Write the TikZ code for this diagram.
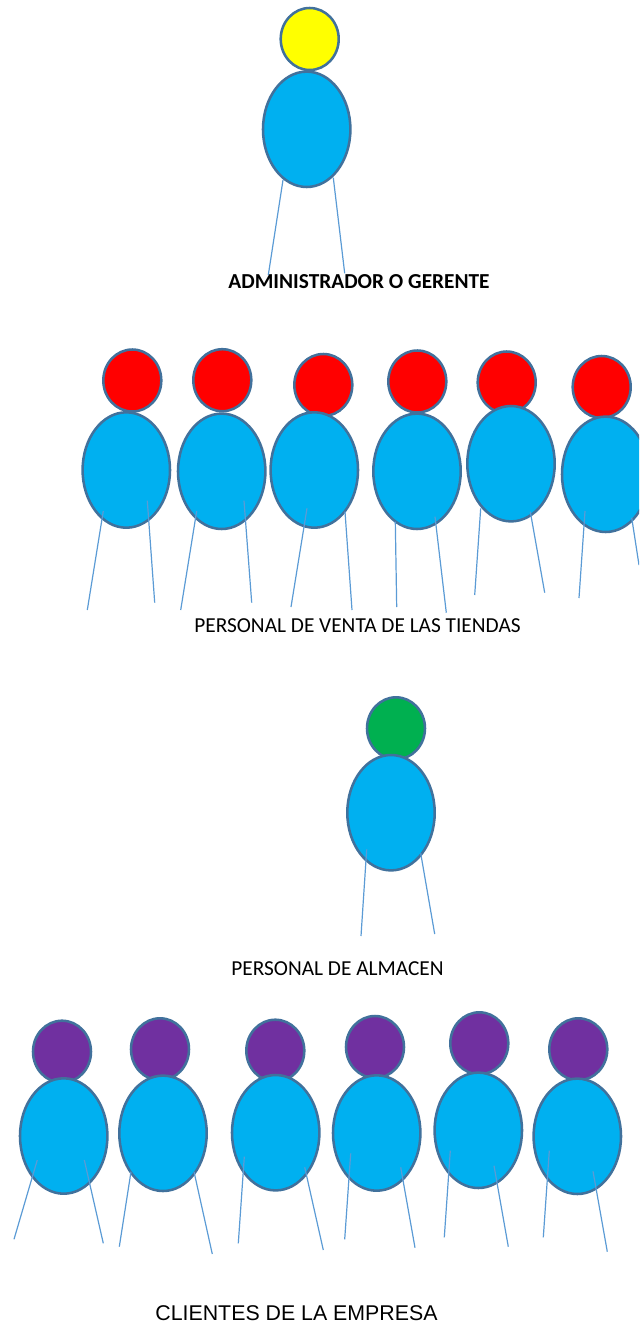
\documentclass[tikz,border=0pt]{standalone}
\usepackage{fontspec}
\setmainfont{Carlito}
\newfontfamily\arialfont{Liberation Sans}
\definecolor{bodyblue}{HTML}{00B0F0}
\definecolor{edgeblue}{HTML}{41719C}
\definecolor{legblue}{HTML}{5B9BD5}
\definecolor{headyellow}{HTML}{FFFF00}
\definecolor{headred}{HTML}{FF0000}
\definecolor{headgreen}{HTML}{00B050}
\definecolor{headpurple}{HTML}{7030A0}
\tikzset{
  torso/.style={draw=edgeblue,fill=bodyblue,line width=1.9pt},
  headshape/.style={draw=edgeblue,line width=1.9pt},
  legline/.style={draw=legblue,line width=0.9pt},
  caption/.style={inner sep=0.75pt,font=\fontsize{16}{19}\selectfont}
}
\begin{document}
\begin{tikzpicture}[x=0.75pt,y=0.75pt,yscale=-1,xscale=1]
    \useasboundingbox (0,0) rectangle (639,1324);
    \clip (0,0) rectangle (639,1324);

    %Shape: Manager
    \draw [headshape,fill=headyellow] (309.7,39) ellipse [x radius=29, y radius=31];
    \draw [torso] (306.7,129.3) ellipse [x radius=43.7, y radius=57.7];
    \draw [legline] (283,180) -- (268.3,275);
    \draw [legline] (333.3,177.7) -- (344.7,273.3);

    %Shape: Sales staff
    \draw [headshape,fill=headred] (132.3,380.5) ellipse [x radius=29, y radius=31];
    \draw [torso] (126.3,470) ellipse [x radius=43.7, y radius=57.7];
    \draw [legline] (103.3,511) -- (87.3,610);
    \draw [legline] (147.3,500.7) -- (154.7,602.7);

    \draw [headshape,fill=headred] (222.3,380.2) ellipse [x radius=29, y radius=31];
    \draw [torso] (221.7,471.3) ellipse [x radius=43.7, y radius=57.7];
    \draw [legline] (196.7,511) -- (180.7,610);
    \draw [legline] (244,500.7) -- (251.7,602.7);

    \draw [headshape,fill=headred] (323.3,385) ellipse [x radius=29, y radius=31];
    \draw [torso] (314.3,470) ellipse [x radius=43.7, y radius=57.7];
    \draw [legline] (307,508.3) -- (291,607);
    \draw [legline] (345,511.7) -- (352,610);

    \draw [headshape,fill=headred] (417.3,381.5) ellipse [x radius=29, y radius=31];
    \draw [torso] (417,471.3) ellipse [x radius=43.7, y radius=57.7];
    \draw [legline] (395.3,521.7) -- (396.7,607);
    \draw [legline] (435,516.7) -- (446.3,612.7);

    \draw [headshape,fill=headred] (506.7,382.5) ellipse [x radius=29, y radius=31];
    \draw [torso] (511,463.7) ellipse [x radius=43.7, y radius=57.7];
    \draw [legline] (480.7,508.3) -- (474.7,595);
    \draw [legline] (530.3,511.7) -- (544.7,592.7);

    \draw [headshape,fill=headred] (601.7,387) ellipse [x radius=29, y radius=31];
    \draw [torso] (605.7,474.3) ellipse [x radius=43.7, y radius=57.7];
    \draw [legline] (585,511) -- (579,598);
    \draw [legline] (631.7,517.7) -- (639,565);

    %Shape: Warehouse staff
    \draw [headshape,fill=headgreen] (396,728.3) ellipse [x radius=29, y radius=31];
    \draw [torso] (391,812.7) ellipse [x radius=43.7, y radius=57.7];
    \draw [legline] (366.7,849.3) -- (361,936);
    \draw [legline] (420.7,853.3) -- (434.7,934);

    %Shape: Customers
    \draw [headshape,fill=headpurple] (62,1051.7) ellipse [x radius=29, y radius=31];
    \draw [torso] (63.7,1136) ellipse [x radius=43.7, y radius=57.7];
    \draw [legline] (37.3,1160) -- (14,1239.3);
    \draw [legline] (84.3,1160) -- (103.3,1243.3);

    \draw [headshape,fill=headpurple] (160,1049.3) ellipse [x radius=29, y radius=31];
    \draw [torso] (163,1133.3) ellipse [x radius=43.7, y radius=57.7];
    \draw [legline] (131,1171.7) -- (119.3,1246.7);
    \draw [legline] (194,1171.7) -- (212.3,1254);

    \draw [headshape,fill=headpurple] (275.3,1050.7) ellipse [x radius=29, y radius=31];
    \draw [torso] (275.7,1132.7) ellipse [x radius=43.7, y radius=57.7];
    \draw [legline] (244.3,1156.7) -- (238.3,1243.3);
    \draw [legline] (304.7,1167.3) -- (323.3,1250);

    \draw [headshape,fill=headpurple] (375,1047) ellipse [x radius=29, y radius=31];
    \draw [torso] (376.7,1133) ellipse [x radius=43.7, y radius=57.7];
    \draw [legline] (350.7,1153.3) -- (344.7,1239.3);
    \draw [legline] (400.7,1167.3) -- (415,1247.7);

    \draw [headshape,fill=headpurple] (479.3,1043.3) ellipse [x radius=29, y radius=31];
    \draw [torso] (478.3,1130.3) ellipse [x radius=43.7, y radius=57.7];
    \draw [legline] (450.3,1150.7) -- (444.3,1237.3);
    \draw [legline] (494,1165.7) -- (508.3,1246.7);

    \draw [headshape,fill=headpurple] (578.3,1049.3) ellipse [x radius=29, y radius=31];
    \draw [torso] (577.3,1136.3) ellipse [x radius=43.7, y radius=57.7];
    \draw [legline] (549.3,1150.7) -- (543.3,1237.3);
    \draw [legline] (593,1171.3) -- (607.3,1251.7);

    % Text Node
    \node [caption,font=\fontsize{16}{19}\selectfont\bfseries] (managerlabel) at (359,282) {ADMINISTRADOR O GERENTE};
    % Text Node
    \node [caption] (saleslabel) at (357.5,626) {PERSONAL DE VENTA DE LAS TIENDAS};
    % Text Node
    \node [caption] (warehouselabel) at (337.5,968.5) {PERSONAL DE ALMACEN};
    % Text Node
    \node [caption,font=\fontsize{16}{19}\arialfont] (customerlabel) at (296.5,1313) {CLIENTES DE LA EMPRESA};
\end{tikzpicture}
\end{document}
